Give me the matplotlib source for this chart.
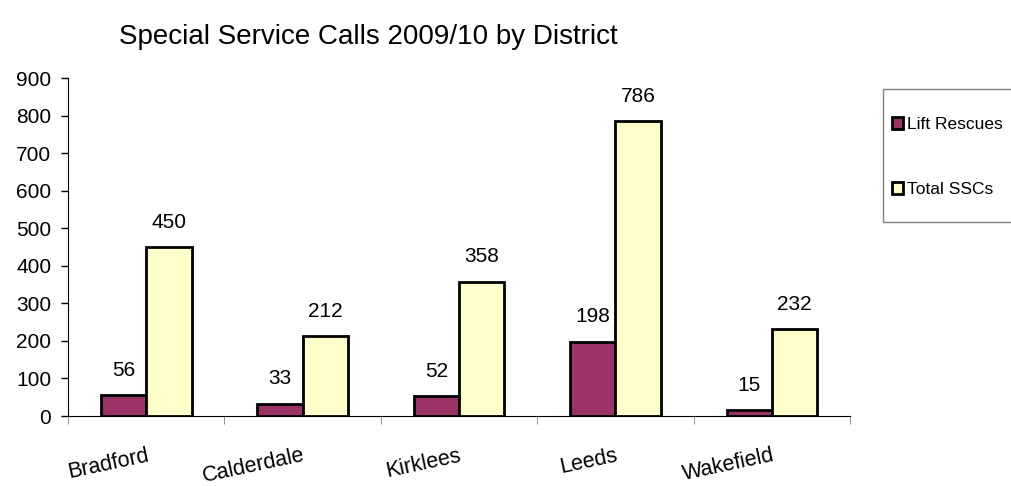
import numpy as np
import matplotlib.pyplot as plt
from matplotlib.patches import Rectangle

plt.rcParams['font.family'] = ['Liberation Sans', 'DejaVu Sans']

# data
districts = ['Bradford', 'Calderdale', 'Kirklees', 'Leeds', 'Wakefield']
lift_rescues = [56, 33, 52, 198, 15]
total_sscs = [450, 212, 358, 786, 232]

fig = plt.figure(figsize=(10.12, 4.86), dpi=100)
ax = fig.add_axes([0.0672, 0.144, 0.7728, 0.6955])

x = np.arange(len(districts))
w = 0.29

b1 = ax.bar(x - w/2, lift_rescues, w, color='#993366', edgecolor='black', linewidth=2, label='Lift Rescues')
b2 = ax.bar(x + w/2, total_sscs, w, color='#FFFFCC', edgecolor='black', linewidth=2, label='Total SSCs')

for bars, vals in ((b1, lift_rescues), (b2, total_sscs)):
    for bar, v in zip(bars, vals):
        ax.annotate(str(v), (bar.get_x() + bar.get_width()/2, v), xytext=(0, 11),
                    textcoords='offset points', ha='center', va='bottom', fontsize=15)

ax.set_xlim(-0.5, len(districts) - 0.5)
ax.set_ylim(0, 900)
ax.set_yticks(range(0, 901, 100))
ax.tick_params(axis='y', labelsize=15, length=5, width=1, direction='out', pad=7)

ax.set_xticks(x)
ax.set_xticklabels(districts, rotation=12, ha='right', rotation_mode='anchor', fontsize=15.5)
ax.tick_params(axis='x', length=0, pad=21)
ax.set_xticks(np.arange(-0.5, len(districts)), minor=True)
ax.tick_params(axis='x', which='minor', length=6, direction='out', color='#808080')

for s in ('top', 'right'):
    ax.spines[s].set_visible(False)

fig.text(0.118, 0.924, 'Special Service Calls 2009/10 by District', fontsize=20, va='center')

# legend box drawn by hand so it can run off the right edge like the original
fig.patches.append(Rectangle((883/1012, (486-222)/486), 0.2, 133/486, transform=fig.transFigure,
                             facecolor='white', edgecolor='#808080', linewidth=1))
leg = fig.legend(loc='upper left', bbox_to_anchor=(892/1012, (486-117)/486), frameon=False,
                 fontsize=12.5, handlelength=0.65, handleheight=0.65, handletextpad=0.2,
                 labelspacing=2.9, borderpad=0, borderaxespad=0)
for h in leg.legend_handles:
    h.set_linewidth(2)

fig.savefig('out.png', dpi=100)
